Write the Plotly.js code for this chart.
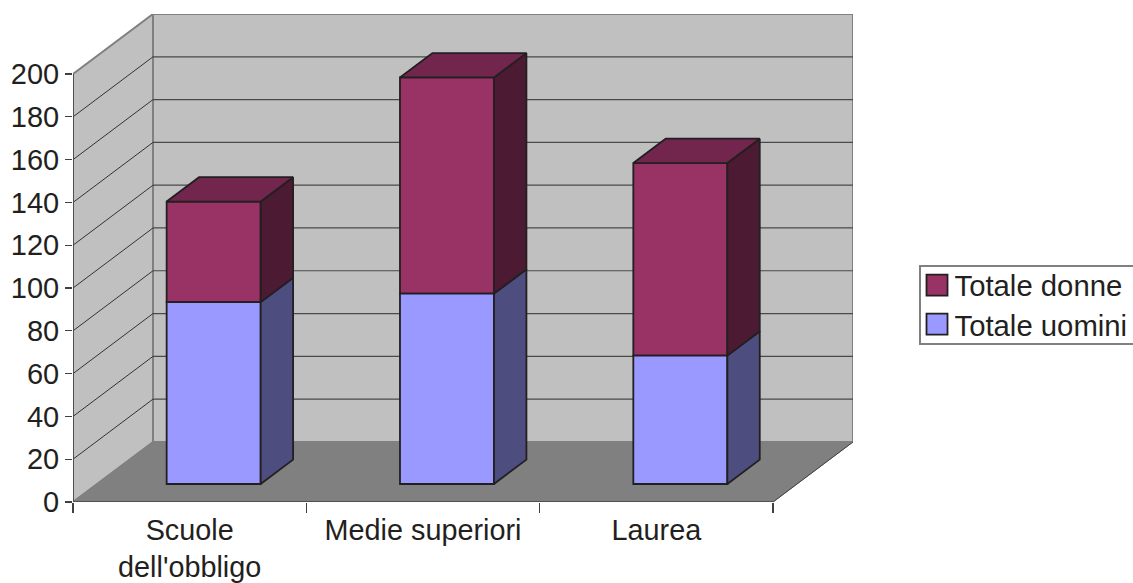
<!DOCTYPE html>
<html>
<head>
<meta charset="utf-8">
<script src="https://cdn.plot.ly/plotly-3.0.1.min.js"></script>
<style>
html,body{margin:0;padding:0;background:#fff;overflow:hidden}
#chart{width:1133px;height:583px}
.legend rect.bg{height:78px;}
.legend .legendpoints path{vector-effect:non-scaling-stroke;}
.legend .traces:nth-child(1) .legendpoints path{transform:translate(16.5px,-7px) scale(1.75);}
.legend .traces:nth-child(2) .legendpoints path{transform:translate(16.5px,-9px) scale(1.75);}
.legend .traces:nth-child(1) .legendtext{transform:translate(-6px,-7px);}
.legend .traces:nth-child(2) .legendtext{transform:translate(-6px,-9px);}
</style>
</head>
<body>
<div id="chart"></div>
<script>
// Data
const categories = ["Scuole<br>dell'obbligo", "Medie superiori", "Laurea"];
const totaleUomini = [85, 89, 60];
const totaleDonne = [47, 101, 90];
const yTicks = [0,20,40,60,80,100,120,140,160,180,200];

// Pseudo-3D projection, in axis units
const depthX = 80/233.33, depthY = 60/2.1375;   // full floor depth
const barFront = 0.3, barDepth = 0.405, barWidth = 0.403;
const fx = barFront*depthX, fy = barFront*depthY;
const bx = barDepth*depthX, by = barDepth*depthY;
const xMax = 3 + depthX, yMax = 200 + depthY;
const textColor = '#231f20', edge = '#231f20';

const xs = categories.map((c,i)=>i+0.5+fx);
const uBase = categories.map(()=>fy);
const dBase = totaleUomini.map(v=>v+fy);

function sideFaces(base, vals){
  const X=[],Y=[];
  xs.forEach((x,i)=>{
    const r=x+barWidth/2, b=base[i], t=base[i]+vals[i];
    X.push(r,r+bx,r+bx,r,r,null);
    Y.push(b,b+by,t+by,t,b,null);
  });
  return {x:X,y:Y};
}
function topFaces(base, vals){
  const X=[],Y=[];
  xs.forEach((x,i)=>{
    const l=x-barWidth/2, r=x+barWidth/2, t=base[i]+vals[i];
    X.push(l,r,r+bx,l+bx,l,null);
    Y.push(t,t,t+by,t+by,t,null);
  });
  return {x:X,y:Y};
}
const poly=(f,fill)=>({...f,type:'scatter',mode:'lines',fill:'toself',fillcolor:fill,
  line:{color:edge,width:1.8},hoverinfo:'skip',showlegend:false});

const traces=[
  {type:'bar',name:'Totale donne',x:xs,y:totaleDonne,base:dBase,width:barWidth,
   marker:{color:'#993366',line:{color:edge,width:1.8}}},
  {type:'bar',name:'Totale uomini',x:xs,y:totaleUomini,base:uBase,width:barWidth,
   marker:{color:'#9999FF',line:{color:edge,width:1.8}}},
  poly(sideFaces(uBase,totaleUomini),'#4D4D80'),
  poly(sideFaces(dBase,totaleDonne),'#4D1A33'),
  poly(topFaces(dBase,totaleDonne),'#73264D')
];

const path=(pts)=>'M'+pts.map(p=>p.join(',')).join('L')+'Z';
const shapes=[
  {type:'path',path:path([[depthX,depthY],[xMax,depthY],[xMax,yMax],[depthX,yMax]]),fillcolor:'#C0C0C0',line:{color:'#808080',width:2},layer:'below'},
  {type:'path',path:path([[0,0],[depthX,depthY],[depthX,yMax],[0,200]]),fillcolor:'#C0C0C0',line:{color:'#808080',width:2},layer:'below'},
  {type:'path',path:path([[0,0],[3,0],[xMax,depthY],[depthX,depthY]]),fillcolor:'#808080',line:{color:'#808080',width:1},layer:'below'}
];
yTicks.filter(v=>v>0).forEach(v=>{
  if(v<200) shapes.push({type:'line',x0:depthX,x1:xMax,y0:v+depthY,y1:v+depthY,line:{color:'#4a4a4a',width:1.2},layer:'below'});
  if(v<200) shapes.push({type:'line',x0:0,x1:depthX,y0:v,y1:v+depthY,line:{color:'#333333',width:1},layer:'below'});
});
shapes.push(
  {type:'line',x0:0,x1:3,y0:0,y1:0,line:{color:'#404040',width:1.5},layer:'below'},
  {type:'line',x0:3,x1:xMax,y0:0,y1:depthY,line:{color:'#404040',width:1},layer:'below'},
  {type:'line',x0:0,x1:0,y0:0,y1:200,line:{color:'#404040',width:1.5},layer:'below'}
);

const layout={
  width:1133,height:583,
  margin:{l:73,r:280,t:14,b:81,pad:0},
  paper_bgcolor:'#fff',plot_bgcolor:'rgba(0,0,0,0)',
  font:{family:'"Liberation Sans",Arial,sans-serif',size:29,color:textColor},
  barmode:'overlay',
  xaxis:{range:[0,xMax],tickmode:'array',tickvals:[0.5,1.5,2.5],ticktext:categories,
    ticks:'',ticklen:0,showgrid:false,zeroline:false,showline:false,tickangle:0,fixedrange:true,
    automargin:false,ticklabelstandoff:8,tickfont:{size:28.8},
    minor:{tickmode:'array',tickvals:[0,1,2,3],ticks:'outside',ticklen:10,tickcolor:'#404040',tickwidth:1.2,showgrid:false}},
  yaxis:{range:[0,yMax],tickmode:'array',tickvals:yTicks,ticks:'outside',ticklen:7,tickcolor:'#404040',tickwidth:1.2,
    showgrid:false,zeroline:false,showline:false,fixedrange:true,automargin:false},
  legend:{xref:'container',yref:'container',x:919/1133,xanchor:'left',y:1-265/583,yanchor:'top',
    bgcolor:'#fff',bordercolor:'#808080',borderwidth:1.5,
    font:{size:29.3,color:textColor},traceorder:'normal',itemclick:false,itemdoubleclick:false},
  shapes:shapes,
  showlegend:true
};
Plotly.newPlot('chart',traces,layout,{displayModeBar:false,staticPlot:true});
</script>
</body>
</html>
